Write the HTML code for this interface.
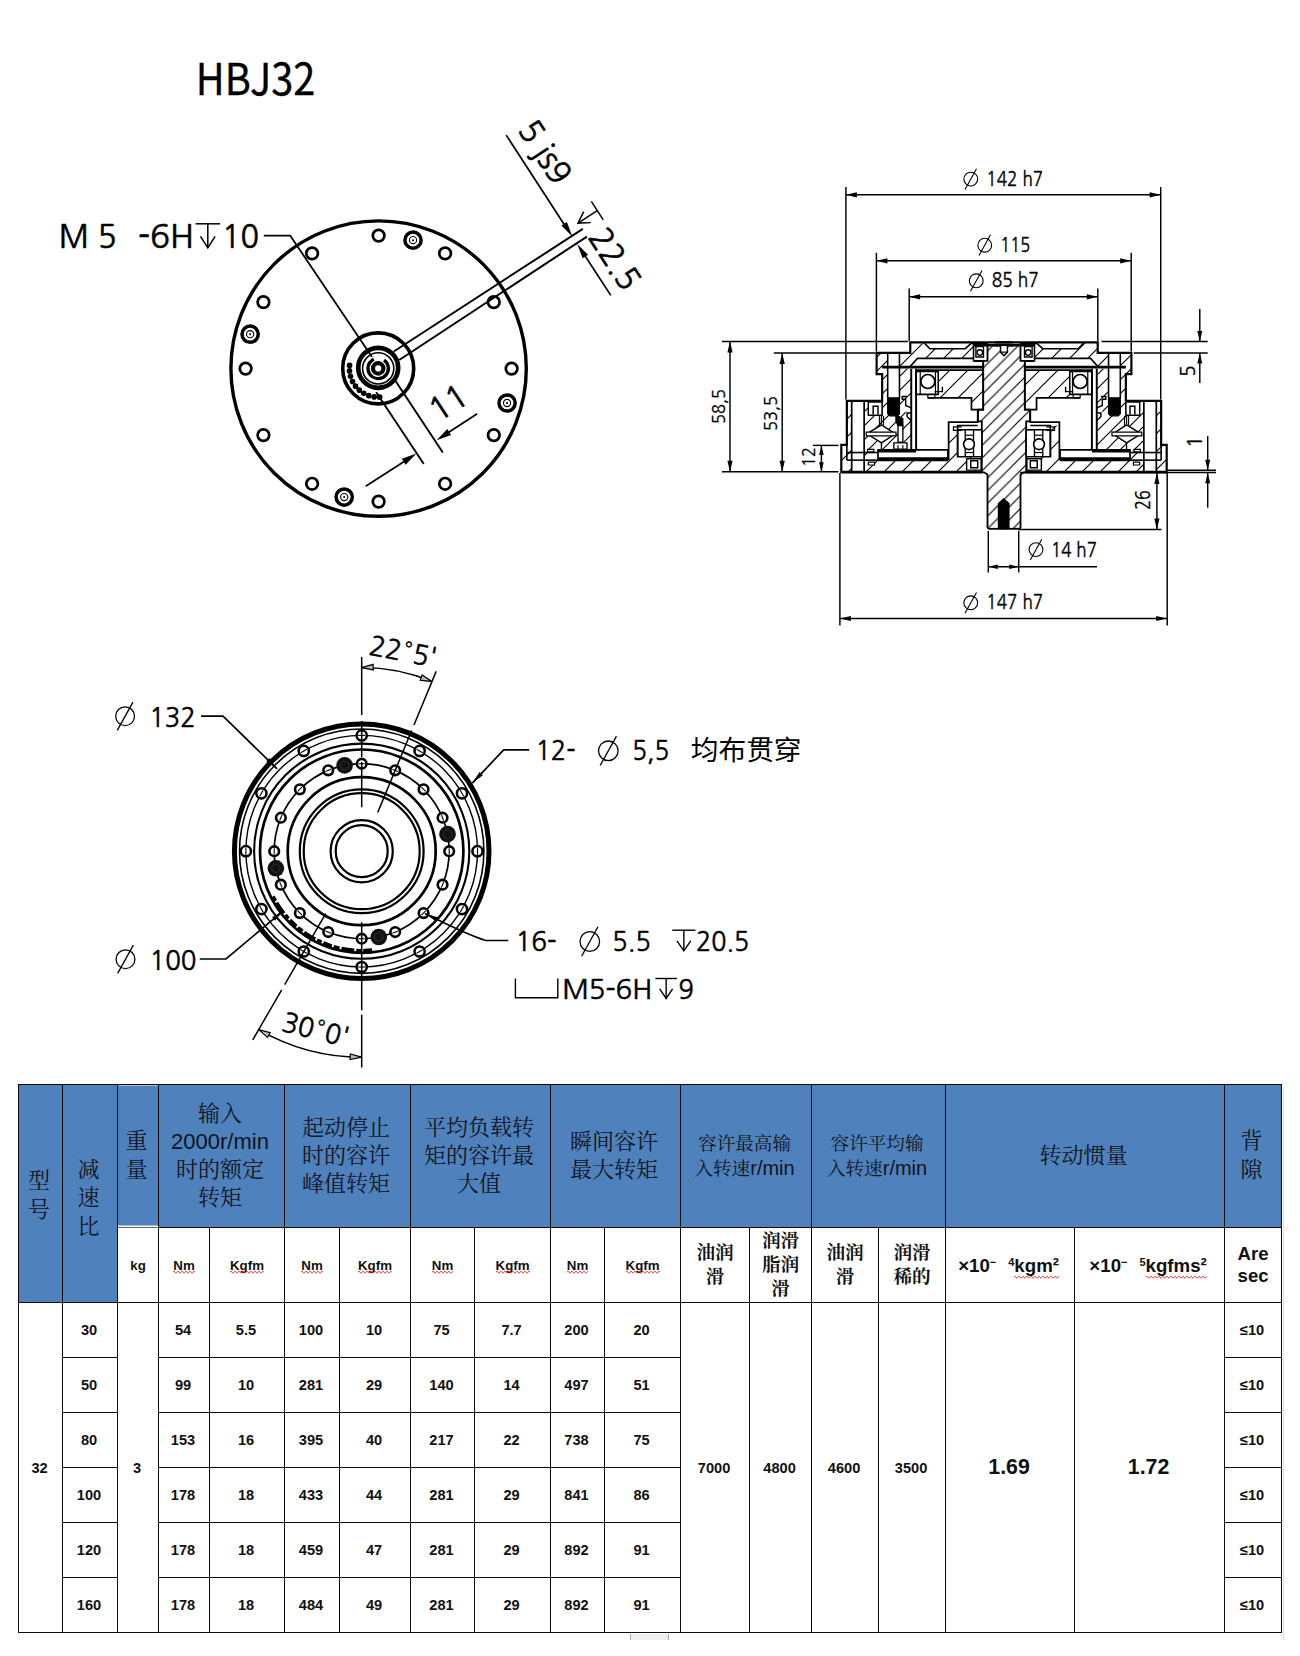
<!DOCTYPE html>
<html lang="zh-CN"><head><meta charset="utf-8"><title>HBJ32</title>
<style>
html,body{margin:0;padding:0;background:#fff;}
body{width:1300px;height:1656px;position:relative;overflow:hidden;font-family:"Liberation Sans","Noto Sans CJK SC",sans-serif;}
svg.draw{position:absolute;left:0;top:0;}

table.spec{position:absolute;left:18px;top:1084px;width:1263px;border-collapse:collapse;table-layout:fixed;font-family:"Liberation Sans","Noto Sans CJK SC",sans-serif;color:#111;}
table.spec th,table.spec td{border:1px solid #0c0c0c;padding:0;text-align:center;vertical-align:middle;overflow:hidden;}
table.spec th{background:#4f81bd;font-family:"Liberation Sans","Noto Serif CJK SC",serif;font-weight:400;font-size:22px;line-height:28px;color:#10141c;padding-right:3px;}
table.spec th .lat{font-family:"Liberation Sans",sans-serif;}
table.spec th.sm{font-size:18.6px;line-height:25px;}
table.spec th.sm .lat{font-size:20px}
table.spec th.v{line-height:28.6px}
table.spec tr.sub td{font-weight:700;font-size:13.3px;}
table.spec td.cb{font-family:"Liberation Serif","Noto Serif CJK SC",serif;font-weight:900;font-size:18.6px !important;line-height:24px;}
table.spec td.ex{font-size:18.67px !important;padding-right:3px;padding-top:2px}
table.spec td.ex sup{font-size:11px;vertical-align:6px;line-height:0}
table.spec td.ex .gap{display:inline-block;width:12px}
table.spec td.as{font-size:18.6px !important;line-height:22px}
table.spec .sq{position:relative;display:inline-block}
table.spec .zz{position:absolute;left:0;top:calc(100% - 2.3px);z-index:2;width:100%;height:4px;overflow:hidden}
table.spec tr.bd td{font-weight:700;font-size:14.6px;padding-right:2px}
table.spec tr.bd td.big{font-size:21.3px;}
table.spec th.wl{border-bottom-color:#6d6a66;background:linear-gradient(to top,#f4f7fb 0,#f4f7fb 1.6px,#4f81bd 1.6px)}

</style></head><body>
<svg class="draw" width="1300" height="1082" viewBox="0 0 1300 1082" fill="none" stroke="#000" stroke-linecap="butt" stroke-linejoin="miter">
<defs><pattern id="hatch" patternUnits="userSpaceOnUse" width="12.7" height="12.7" patternTransform="translate(5 0)"><path d="M-1 13.7 L13.7 -1 M-1 1 L1 -1 M11.7 13.7 L13.7 11.7" stroke="#000" stroke-width="1.15" fill="none"/></pattern><pattern id="hatch14" patternUnits="userSpaceOnUse" width="14" height="14" patternTransform="translate(2 0)"><path d="M-1 15 L15 -1 M-1 1 L1 -1 M13 15 L15 13" stroke="#000" stroke-width="1.15" fill="none"/></pattern><pattern id="hatch18" patternUnits="userSpaceOnUse" width="18" height="18" patternTransform="translate(6 0)"><path d="M-1 19 L19 -1 M-1 1 L1 -1 M17 19 L19 17" stroke="#000" stroke-width="1.15" fill="none"/></pattern></defs>
<text x="195.8" y="94.5" font-size="43.5" font-family='"Noto Sans CJK SC","Liberation Sans",sans-serif' text-anchor="start" textLength="119.5" lengthAdjust="spacingAndGlyphs" fill="#000" stroke="#000" stroke-width="0.35" stroke-linejoin="round" >HBJ32</text>
<g id="view-top"><circle cx="378.6" cy="368.6" r="147.7" fill="none" stroke-width="3.4" />
<circle cx="378.6" cy="235.6" r="5.8" fill="none" stroke-width="2.7" />
<circle cx="445.1" cy="253.42" r="5.8" fill="none" stroke-width="2.7" />
<circle cx="493.78" cy="302.1" r="5.8" fill="none" stroke-width="2.7" />
<circle cx="511.6" cy="368.6" r="5.8" fill="none" stroke-width="2.7" />
<circle cx="493.78" cy="435.1" r="5.8" fill="none" stroke-width="2.7" />
<circle cx="445.1" cy="483.78" r="5.8" fill="none" stroke-width="2.7" />
<circle cx="378.6" cy="501.6" r="5.8" fill="none" stroke-width="2.7" />
<circle cx="312.1" cy="483.78" r="5.8" fill="none" stroke-width="2.7" />
<circle cx="263.42" cy="435.1" r="5.8" fill="none" stroke-width="2.7" />
<circle cx="245.6" cy="368.6" r="5.8" fill="none" stroke-width="2.7" />
<circle cx="263.42" cy="302.1" r="5.8" fill="none" stroke-width="2.7" />
<circle cx="312.1" cy="253.42" r="5.8" fill="none" stroke-width="2.7" />
<circle cx="413.02" cy="240.13" r="8.1" fill="none" stroke-width="3.5" />
<circle cx="413.02" cy="240.13" r="3.6" fill="none" stroke-width="1.1" />
<circle cx="413.02" cy="240.13" r="1" fill="#000" stroke="none" />
<circle cx="507.07" cy="403.02" r="8.1" fill="none" stroke-width="3.5" />
<circle cx="507.07" cy="403.02" r="3.6" fill="none" stroke-width="1.1" />
<circle cx="507.07" cy="403.02" r="1" fill="#000" stroke="none" />
<circle cx="344.18" cy="497.07" r="8.1" fill="none" stroke-width="3.5" />
<circle cx="344.18" cy="497.07" r="3.6" fill="none" stroke-width="1.1" />
<circle cx="344.18" cy="497.07" r="1" fill="#000" stroke="none" />
<circle cx="250.13" cy="334.18" r="8.1" fill="none" stroke-width="3.5" />
<circle cx="250.13" cy="334.18" r="3.6" fill="none" stroke-width="1.1" />
<circle cx="250.13" cy="334.18" r="1" fill="#000" stroke="none" />
<circle cx="378.2" cy="368.4" r="35.5" fill="none" stroke-width="3.6" />
<circle cx="378.2" cy="367.8" r="20" fill="none" stroke-width="4.7" />
<circle cx="378.2" cy="368.4" r="15.6" fill="none" stroke-width="1.6" />
<circle cx="378.2" cy="368.4" r="10.2" fill="none" stroke-width="3.3" stroke-dasharray="53 11.1" transform="rotate(-55 378.2 368.4)"/>
<circle cx="378.2" cy="368.4" r="5.2" fill="none" stroke-width="4.2" />
<circle cx="379.71" cy="397.16" r="2.8" fill="#000" stroke="none" />
<circle cx="374.19" cy="396.92" r="2.8" fill="#000" stroke="none" />
<circle cx="368.82" cy="395.63" r="2.8" fill="#000" stroke="none" />
<circle cx="363.8" cy="393.34" r="2.8" fill="#000" stroke="none" />
<circle cx="359.31" cy="390.14" r="2.8" fill="#000" stroke="none" />
<circle cx="355.51" cy="386.13" r="2.8" fill="#000" stroke="none" />
<circle cx="352.54" cy="381.47" r="2.8" fill="#000" stroke="none" />
<circle cx="350.52" cy="376.34" r="2.8" fill="#000" stroke="none" />
<circle cx="349.51" cy="370.91" r="2.8" fill="#000" stroke="none" />
<circle cx="349.56" cy="365.39" r="2.8" fill="#000" stroke="none" />
<line x1="393.8" y1="351.5" x2="582.8" y2="228.9" stroke-width="2.0" />
<line x1="399.2" y1="360" x2="586.9" y2="236.6" stroke-width="2.0" />
<path d="M263.8 235.6 L290.2 235.6 L372 357" fill="none" stroke-width="1.8" />
<line x1="376.2" y1="392.3" x2="423.8" y2="464" stroke-width="1.9" />
<line x1="395.4" y1="380.8" x2="442.8" y2="452.5" stroke-width="1.9" />
<line x1="365.7" y1="486.2" x2="410" y2="457.7" stroke-width="1.7" />
<polygon points="416.4,453.6 405.68,464.66 401.89,458.77" fill="#000" stroke="none"/>
<line x1="477.2" y1="413.8" x2="443" y2="436" stroke-width="1.7" />
<polygon points="436.6,440.2 447.27,429.09 451.08,434.96" fill="#000" stroke="none"/>
<text x="448.2" y="402.6" font-size="32" font-family='"NanumGothic","Liberation Sans",sans-serif' text-anchor="middle" transform="rotate(-33.3 448.2 402.6)" fill="#000" stroke="#000" stroke-width="0.64" stroke-linejoin="round" dy="11.5">11</text>
<line x1="506.2" y1="135.1" x2="566" y2="227.3" stroke-width="1.7" />
<polygon points="572.3,236.4 561.4,225.59 566.85,222.05" fill="#000" stroke="none"/>
<line x1="610.8" y1="295.4" x2="583.5" y2="253.5" stroke-width="1.7" />
<polygon points="577.2,243.9 588.1,254.71 582.65,258.25" fill="#000" stroke="none"/>
<text x="517.09" y="129.82" font-size="32" font-family='"NanumGothic","Liberation Sans",sans-serif' text-anchor="start" transform="rotate(57 517.09 129.82)" textLength="68" lengthAdjust="spacingAndGlyphs" fill="#000" stroke="#000" stroke-width="0.64" stroke-linejoin="round" >5 js9</text>
<g transform="translate(587.27 237.36) rotate(57)"><line x1="-28" y1="-23" x2="-6" y2="-23" stroke-width="1.5" /><line x1="-17" y1="-23" x2="-17" y2="0" stroke-width="1.5" /><path d="M-23.6 -11.04 L-17 0 L-10.4 -11.04" fill="none" stroke-width="1.5" /></g>
<text x="587.27" y="237.36" font-size="32" font-family='"NanumGothic","Liberation Sans",sans-serif' text-anchor="start" transform="rotate(57 587.27 237.36)" textLength="66" lengthAdjust="spacingAndGlyphs" fill="#000" stroke="#000" stroke-width="0.64" stroke-linejoin="round" >22.5</text>
<text x="58.8" y="247.8" font-size="32" font-family='"NanumGothic","Liberation Sans",sans-serif' text-anchor="start" textLength="58" lengthAdjust="spacingAndGlyphs" fill="#000" stroke="#000" stroke-width="0.64" stroke-linejoin="round" >M 5</text>
<text x="138" y="247.8" font-size="32" font-family='"NanumGothic","Liberation Sans",sans-serif' text-anchor="start" textLength="56" lengthAdjust="spacingAndGlyphs" fill="#000" stroke="#000" stroke-width="0.64" stroke-linejoin="round" >-6H</text>
<line x1="195.6" y1="223.8" x2="220" y2="223.8" stroke-width="1.5" /><line x1="207.8" y1="223.8" x2="207.8" y2="247.8" stroke-width="1.5" /><path d="M200.48 236.28 L207.8 247.8 L215.12 236.28" fill="none" stroke-width="1.5" />
<text x="222" y="247.8" font-size="32" font-family='"NanumGothic","Liberation Sans",sans-serif' text-anchor="start" textLength="37" lengthAdjust="spacingAndGlyphs" fill="#000" stroke="#000" stroke-width="0.64" stroke-linejoin="round" >10</text></g>
<g id="view-bottom"><circle cx="361.7" cy="851.2" r="127.3" fill="none" stroke-width="5.0" />
<circle cx="361.7" cy="851.2" r="122.2" fill="none" stroke-width="1.6" />
<circle cx="361.7" cy="851.2" r="115.8" fill="none" stroke-width="1.4" />
<circle cx="361.7" cy="851.2" r="107.6" fill="none" stroke-width="2.1" />
<circle cx="361.7" cy="851.2" r="101.7" fill="none" stroke-width="2.7" />
<circle cx="361.7" cy="851.2" r="87.5" fill="none" stroke-width="1.7" />
<circle cx="361.7" cy="851.2" r="74" fill="none" stroke-width="2.7" />
<circle cx="361.7" cy="851.2" r="61.9" fill="none" stroke-width="2.2" />
<circle cx="361.7" cy="851.2" r="58" fill="none" stroke-width="2.2" />
<circle cx="361.7" cy="851.2" r="31.1" fill="none" stroke-width="2.2" />
<circle cx="361.7" cy="851.2" r="26" fill="none" stroke-width="2.2" />
<circle cx="361.7" cy="735.4" r="5.1" fill="#fff" stroke-width="2.5" />
<line x1="358.2" y1="735.4" x2="365.2" y2="735.4" stroke-width="1.1" />
<circle cx="419.6" cy="750.91" r="5.1" fill="#fff" stroke-width="2.5" />
<line x1="416.57" y1="749.16" x2="422.63" y2="752.66" stroke-width="1.1" />
<circle cx="461.99" cy="793.3" r="5.1" fill="#fff" stroke-width="2.5" />
<line x1="460.24" y1="790.27" x2="463.74" y2="796.33" stroke-width="1.1" />
<circle cx="477.5" cy="851.2" r="5.1" fill="#fff" stroke-width="2.5" />
<line x1="477.5" y1="847.7" x2="477.5" y2="854.7" stroke-width="1.1" />
<circle cx="461.99" cy="909.1" r="5.1" fill="#fff" stroke-width="2.5" />
<line x1="463.74" y1="906.07" x2="460.24" y2="912.13" stroke-width="1.1" />
<circle cx="419.6" cy="951.49" r="5.1" fill="#fff" stroke-width="2.5" />
<line x1="422.63" y1="949.74" x2="416.57" y2="953.24" stroke-width="1.1" />
<circle cx="361.7" cy="967" r="5.1" fill="#fff" stroke-width="2.5" />
<line x1="365.2" y1="967" x2="358.2" y2="967" stroke-width="1.1" />
<circle cx="303.8" cy="951.49" r="5.1" fill="#fff" stroke-width="2.5" />
<line x1="306.83" y1="953.24" x2="300.77" y2="949.74" stroke-width="1.1" />
<circle cx="261.41" cy="909.1" r="5.1" fill="#fff" stroke-width="2.5" />
<line x1="263.16" y1="912.13" x2="259.66" y2="906.07" stroke-width="1.1" />
<circle cx="245.9" cy="851.2" r="5.1" fill="#fff" stroke-width="2.5" />
<line x1="245.9" y1="854.7" x2="245.9" y2="847.7" stroke-width="1.1" />
<circle cx="261.41" cy="793.3" r="5.1" fill="#fff" stroke-width="2.5" />
<line x1="259.66" y1="796.33" x2="263.16" y2="790.27" stroke-width="1.1" />
<circle cx="303.8" cy="750.91" r="5.1" fill="#fff" stroke-width="2.5" />
<line x1="300.77" y1="752.66" x2="306.83" y2="749.16" stroke-width="1.1" />
<circle cx="361.7" cy="763.7" r="4.8" fill="#fff" stroke-width="2.6" />
<line x1="358.7" y1="763.7" x2="364.7" y2="763.7" stroke-width="1.1" />
<circle cx="395.18" cy="770.36" r="4.8" fill="#fff" stroke-width="2.6" />
<line x1="392.41" y1="769.21" x2="397.96" y2="771.51" stroke-width="1.1" />
<circle cx="423.57" cy="789.33" r="4.8" fill="#fff" stroke-width="2.6" />
<line x1="421.45" y1="787.21" x2="425.69" y2="791.45" stroke-width="1.1" />
<circle cx="442.54" cy="817.72" r="4.8" fill="#fff" stroke-width="2.6" />
<line x1="441.39" y1="814.94" x2="443.69" y2="820.49" stroke-width="1.1" />
<circle cx="449.2" cy="851.2" r="4.8" fill="#fff" stroke-width="2.6" />
<line x1="449.2" y1="848.2" x2="449.2" y2="854.2" stroke-width="1.1" />
<circle cx="442.54" cy="884.68" r="4.8" fill="#fff" stroke-width="2.6" />
<line x1="443.69" y1="881.91" x2="441.39" y2="887.46" stroke-width="1.1" />
<circle cx="423.57" cy="913.07" r="4.8" fill="#fff" stroke-width="2.6" />
<line x1="425.69" y1="910.95" x2="421.45" y2="915.19" stroke-width="1.1" />
<circle cx="395.18" cy="932.04" r="4.8" fill="#fff" stroke-width="2.6" />
<line x1="397.96" y1="930.89" x2="392.41" y2="933.19" stroke-width="1.1" />
<circle cx="361.7" cy="938.7" r="4.8" fill="#fff" stroke-width="2.6" />
<line x1="364.7" y1="938.7" x2="358.7" y2="938.7" stroke-width="1.1" />
<circle cx="328.22" cy="932.04" r="4.8" fill="#fff" stroke-width="2.6" />
<line x1="330.99" y1="933.19" x2="325.44" y2="930.89" stroke-width="1.1" />
<circle cx="299.83" cy="913.07" r="4.8" fill="#fff" stroke-width="2.6" />
<line x1="301.95" y1="915.19" x2="297.71" y2="910.95" stroke-width="1.1" />
<circle cx="280.86" cy="884.68" r="4.8" fill="#fff" stroke-width="2.6" />
<line x1="282.01" y1="887.46" x2="279.71" y2="881.91" stroke-width="1.1" />
<circle cx="274.2" cy="851.2" r="4.8" fill="#fff" stroke-width="2.6" />
<line x1="274.2" y1="854.2" x2="274.2" y2="848.2" stroke-width="1.1" />
<circle cx="280.86" cy="817.72" r="4.8" fill="#fff" stroke-width="2.6" />
<line x1="279.71" y1="820.49" x2="282.01" y2="814.94" stroke-width="1.1" />
<circle cx="299.83" cy="789.33" r="4.8" fill="#fff" stroke-width="2.6" />
<line x1="297.71" y1="791.45" x2="301.95" y2="787.21" stroke-width="1.1" />
<circle cx="328.22" cy="770.36" r="4.8" fill="#fff" stroke-width="2.6" />
<line x1="325.44" y1="771.51" x2="330.99" y2="769.21" stroke-width="1.1" />
<circle cx="344.63" cy="765.38" r="8.3" fill="#111" stroke="none" />
<circle cx="344.63" cy="765.38" r="4.2" fill="none" stroke-width="0.6" stroke="#444"/>
<circle cx="447.52" cy="834.13" r="8.3" fill="#111" stroke="none" />
<circle cx="447.52" cy="834.13" r="4.2" fill="none" stroke-width="0.6" stroke="#444"/>
<circle cx="378.77" cy="937.02" r="8.3" fill="#111" stroke="none" />
<circle cx="378.77" cy="937.02" r="4.2" fill="none" stroke-width="0.6" stroke="#444"/>
<circle cx="275.88" cy="868.27" r="8.3" fill="#111" stroke="none" />
<circle cx="275.88" cy="868.27" r="4.2" fill="none" stroke-width="0.6" stroke="#444"/>
<path d="M372.15 950.65 A100 100 0 0 1 272.6 896.6" stroke-width="4.6" stroke-dasharray="9 2 5 2 13 2 6 2" fill="none"/>
<line x1="361.7" y1="656.9" x2="361.7" y2="807.2" stroke-width="1.5" stroke-dasharray="58 6 36 5 60"/>
<line x1="361.7" y1="922.2" x2="361.7" y2="1067.5" stroke-width="1.5" stroke-dasharray="88 4.5 60"/>
<line x1="436.17" y1="671.41" x2="377.77" y2="812.4" stroke-width="1.5" stroke-dasharray="58 6 100"/>
<line x1="325.7" y1="913.55" x2="252.7" y2="1039.99" stroke-width="1.5" stroke-dasharray="82 6 70"/>
<path d="M361.7 667.6 A183.6 183.6 0 0 1 431.96 681.58" stroke-width="1.5"/>
<polygon points="361.7,667.6 373.08,664.39 373.3,669.89" fill="#bbb" stroke="#000" stroke-width="1.2" stroke-linejoin="miter"/>
<polygon points="431.96,681.58 420.22,680.15 422.13,675" fill="#bbb" stroke="#000" stroke-width="1.2" stroke-linejoin="miter"/>
<text x="401.5" y="661" font-size="27" font-family='"NanumGothic","Liberation Sans",sans-serif' text-anchor="middle" transform="rotate(11 401.5 661)" textLength="68" lengthAdjust="spacingAndGlyphs" fill="#000" stroke="#000" stroke-width="0.54" stroke-linejoin="round" >22°5'</text>
<path d="M361.7 1057.2 A206.0 206.0 0 0 1 258.7 1029.6" stroke-width="1.5"/>
<polygon points="361.7,1057.2 350.1,1059.49 350.32,1053.99" fill="#bbb" stroke="#000" stroke-width="1.2" stroke-linejoin="miter"/>
<polygon points="258.7,1029.6 270.15,1032.57 267.57,1037.42" fill="#bbb" stroke="#000" stroke-width="1.2" stroke-linejoin="miter"/>
<text x="313.5" y="1039" font-size="27" font-family='"NanumGothic","Liberation Sans",sans-serif' text-anchor="middle" transform="rotate(14 313.5 1039)" textLength="68" lengthAdjust="spacingAndGlyphs" fill="#000" stroke="#000" stroke-width="0.54" stroke-linejoin="round" >30°0'</text>
<path d="M201.1 716.2 L223 716.2 L277.1 768.8" fill="none" stroke-width="1.7" />
<polygon points="277.1,768.8 266.21,761.35 269.35,758.12" fill="#000" stroke="none"/>
<circle cx="125.1" cy="716.2" r="9.4" fill="none" stroke-width="1.3" /><line x1="117.26" y1="730.34" x2="132.94" y2="702.06" stroke-width="1.3" />
<text x="149.3" y="726.5" font-size="27.5" font-family='"NanumGothic","Liberation Sans",sans-serif' text-anchor="start" textLength="46.5" lengthAdjust="spacingAndGlyphs" fill="#000" stroke="#000" stroke-width="0.55" stroke-linejoin="round" >132</text>
<path d="M199.8 959 L226 959 L283.5 910.6" fill="none" stroke-width="1.7" />
<polygon points="283.5,910.6 275,920.69 272.11,917.25" fill="#000" stroke="none"/>
<circle cx="125.5" cy="959.2" r="9.4" fill="none" stroke-width="1.3" /><line x1="117.66" y1="973.34" x2="133.34" y2="945.06" stroke-width="1.3" />
<text x="149.5" y="969.6" font-size="27.5" font-family='"NanumGothic","Liberation Sans",sans-serif' text-anchor="start" textLength="47" lengthAdjust="spacingAndGlyphs" fill="#000" stroke="#000" stroke-width="0.55" stroke-linejoin="round" >100</text>
<path d="M529.2 749.8 L503.7 749.8 L472.3 783.1" fill="none" stroke-width="1.7" />
<polygon points="472.3,783.1 479.58,772.1 482.86,775.19" fill="#000" stroke="none"/>
<text x="535.4" y="760" font-size="27.5" font-family='"NanumGothic","Liberation Sans",sans-serif' text-anchor="start" textLength="40" lengthAdjust="spacingAndGlyphs" fill="#000" stroke="#000" stroke-width="0.55" stroke-linejoin="round" >12-</text>
<circle cx="608.3" cy="750.8" r="9.8" fill="none" stroke-width="1.3" /><line x1="600.13" y1="765.54" x2="616.47" y2="736.06" stroke-width="1.3" />
<text x="632.3" y="760" font-size="27.5" font-family='"NanumGothic","Liberation Sans",sans-serif' text-anchor="start" textLength="37" lengthAdjust="spacingAndGlyphs" fill="#000" stroke="#000" stroke-width="0.55" stroke-linejoin="round" >5,5</text>
<text x="690.8" y="760" font-size="27.7" font-family='"Liberation Sans","Noto Sans CJK SC",sans-serif' text-anchor="start" textLength="110.7" lengthAdjust="spacingAndGlyphs" fill="#000" stroke="none" >均布贯穿</text>
<path d="M508.3 940.6 L486.2 940.6 Q470 936 425 913.5" stroke-width="1.5"/>
<polygon points="425,913.5 437.67,917.19 435.69,921.23" fill="#000" stroke="none"/>
<text x="515.4" y="950.8" font-size="27.5" font-family='"NanumGothic","Liberation Sans",sans-serif' text-anchor="start" textLength="41" lengthAdjust="spacingAndGlyphs" fill="#000" stroke="#000" stroke-width="0.55" stroke-linejoin="round" >16-</text>
<circle cx="589.8" cy="941.5" r="9.8" fill="none" stroke-width="1.3" /><line x1="581.63" y1="956.24" x2="597.97" y2="926.76" stroke-width="1.3" />
<text x="612.3" y="950.8" font-size="27.5" font-family='"NanumGothic","Liberation Sans",sans-serif' text-anchor="start" textLength="38.5" lengthAdjust="spacingAndGlyphs" fill="#000" stroke="#000" stroke-width="0.55" stroke-linejoin="round" >5.5</text>
<line x1="672.3" y1="930.2" x2="695.4" y2="930.2" stroke-width="1.4" /><line x1="683.85" y1="930.2" x2="683.85" y2="950.8" stroke-width="1.4" /><path d="M676.92 940.91 L683.85 950.8 L690.78 940.91" fill="none" stroke-width="1.4" />
<text x="696" y="950.8" font-size="27.5" font-family='"NanumGothic","Liberation Sans",sans-serif' text-anchor="start" textLength="53.2" lengthAdjust="spacingAndGlyphs" fill="#000" stroke="#000" stroke-width="0.55" stroke-linejoin="round" >20.5</text>
<path d="M515.4 978.5 L515.4 997.8 L557.8 997.8 L557.8 978.5" fill="none" stroke-width="1.4" />
<text x="562.2" y="998.5" font-size="27.5" font-family='"NanumGothic","Liberation Sans",sans-serif' text-anchor="start" textLength="90" lengthAdjust="spacingAndGlyphs" fill="#000" stroke="#000" stroke-width="0.55" stroke-linejoin="round" >M5-6H</text>
<line x1="655.4" y1="978.5" x2="676.9" y2="978.5" stroke-width="1.4" /><line x1="666.15" y1="978.5" x2="666.15" y2="998.5" stroke-width="1.4" /><path d="M659.7 988.9 L666.15 998.5 L672.6 988.9" fill="none" stroke-width="1.4" />
<text x="678.5" y="998.5" font-size="27.5" font-family='"NanumGothic","Liberation Sans",sans-serif' text-anchor="start" textLength="15.3" lengthAdjust="spacingAndGlyphs" fill="#000" stroke="#000" stroke-width="0.55" stroke-linejoin="round" >9</text></g>
<g id="view-section"><path d="M1034.46 343.85 L1036.54 343.15 L1042.77 348.69 L1078.08 348.69 L1083.62 343.15 L1097.74 343.15 L1097.74 352.85 L1108.54 352.85 L1108.54 366.69 L1098.15 366.69 L1090.54 358.38 L1034.46 358.38 Z" fill="url(#hatch18)" stroke="none" /><path d="M973.54 343.85 L971.46 343.15 L965.23 348.69 L929.92 348.69 L924.38 343.15 L910.26 343.15 L910.26 352.85 L899.46 352.85 L899.46 366.69 L909.85 366.69 L917.46 358.38 L973.54 358.38 Z" fill="url(#hatch18)" stroke="none" />
<path d="M1096.77 368.77 L1108.54 368.77 L1108.54 352.85 L1131.39 352.85 L1131.39 374.03 L1125.85 374.03 L1125.85 400.89 L1143.85 400.89 L1143.85 450.46 L1096.77 450.46 Z" fill="url(#hatch14)" stroke="none" /><path d="M911.23 368.77 L899.46 368.77 L899.46 352.85 L876.61 352.85 L876.61 374.03 L882.15 374.03 L882.15 400.89 L864.15 400.89 L864.15 450.46 L911.23 450.46 Z" fill="url(#hatch14)" stroke="none" />
<path d="M1156.31 400.89 L1161.15 400.89 L1161.15 444.92 L1166.69 444.92 L1166.69 471.92 L1156.31 471.92 Z" fill="url(#hatch18)" stroke="none" /><path d="M851.69 400.89 L846.85 400.89 L846.85 444.92 L841.31 444.92 L841.31 471.92 L851.69 471.92 Z" fill="url(#hatch18)" stroke="none" />
<path d="M1050.38 425.54 L1059.38 425.54 L1059.38 460.15 L1130 460.15 L1130 452.54 L1143.85 452.54 L1143.85 471.92 L1026.15 471.92 L1026.15 456.69 L1050.38 456.69 Z" fill="url(#hatch18)" stroke="none" /><path d="M957.62 425.54 L948.62 425.54 L948.62 460.15 L878 460.15 L878 452.54 L864.15 452.54 L864.15 471.92 L981.85 471.92 L981.85 456.69 L957.62 456.69 Z" fill="url(#hatch18)" stroke="none" />
<path d="M1024.77 370.15 L1069.77 370.15 L1069.77 386.77 L1065.62 386.77 L1065.62 391.62 L1073.23 391.62 L1073.23 394.38 L1080.15 394.38 L1080.15 397.85 L1036.54 397.85 L1036.54 409.62 L1024.77 409.62 Z" fill="url(#hatch18)" stroke="none" /><path d="M983.23 370.15 L938.23 370.15 L938.23 386.77 L942.38 386.77 L942.38 391.62 L934.77 391.62 L934.77 394.38 L927.85 394.38 L927.85 397.85 L971.46 397.85 L971.46 409.62 L983.23 409.62 Z" fill="url(#hatch18)" stroke="none" />
<path d="M1020.6 343.8 L1020.6 360.5 L1024.8 360.5 L1024.8 409.6 L1030 409.6 L1030 421.4 L1026.2 421.4 L1026.2 472.3 L1024 472.3 L1020.5 474.5 L1020.5 527.5 L1019.3 528.8 L988.7 528.8 L987.5 527.5 L987.5 474.5 L984 472.3 L981.8 472.3 L981.8 421.4 L978 421.4 L978 409.6 L983.2 409.6 L983.2 360.5 L987.4 360.5 L987.4 343.8 Z" fill="url(#hatch)" stroke="none" />
<path d="M1020.6 343.8 L1020.6 360.5 L1024.8 360.5 L1024.8 409.6 L1030 409.6 L1030 421.4 L1026.2 421.4 L1026.2 472.3 L1024 472.3 L1020.5 474.5 L1020.5 527.5 L1019.3 528.8" fill="none" stroke-width="1.83" />
<path d="M988.7 528.8 L987.5 527.5 L987.5 474.5 L984 472.3 L981.8 472.3 L981.8 421.4 L978 421.4 L978 409.6 L983.2 409.6 L983.2 360.5 L987.4 360.5 L987.4 343.8" fill="none" stroke-width="1.83" />
<line x1="988.7" y1="528.8" x2="1019.3" y2="528.8" stroke-width="1.83" />
<path d="M1108.54 352.85 L1120.31 352.85 L1120.31 397.85 L1108.54 397.85 Z" fill="#fff" stroke="none" /><path d="M899.46 352.85 L887.69 352.85 L887.69 397.85 L899.46 397.85 Z" fill="#fff" stroke="none" />
<path d="M1112.69 433.85 L1126.54 424.85 L1141.08 433.85 L1126.54 442.85 Z" fill="#fff" stroke-width="1.46" /><path d="M895.31 433.85 L881.46 424.85 L866.92 433.85 L881.46 442.85 Z" fill="#fff" stroke-width="1.46" />
<path d="M1125.85 402 L1139.69 402 L1139.69 415.15 L1125.85 415.15 Z" fill="#fff" stroke="none" /><path d="M882.15 402 L868.31 402 L868.31 415.15 L882.15 415.15 Z" fill="#fff" stroke="none" />
<path d="M1096.77 405.46 L1102.31 405.46 L1102.31 420 L1096.77 420 Z" fill="#fff" stroke="none" /><path d="M911.23 405.46 L905.69 405.46 L905.69 420 L911.23 420 Z" fill="#fff" stroke="none" />
<path d="M1020.62 343.85 L1034.46 343.85 L1034.46 360.74 L1020.62 360.74 Z" fill="#fff" stroke-width="1.59" /><path d="M987.38 343.85 L973.54 343.85 L973.54 360.74 L987.38 360.74 Z" fill="#fff" stroke-width="1.59" />
<path d="M1026.15 429.69 L1050.38 429.69 L1050.38 456.69 L1026.15 456.69 Z" fill="#fff" stroke-width="1.59" /><path d="M981.85 429.69 L957.62 429.69 L957.62 456.69 L981.85 456.69 Z" fill="#fff" stroke-width="1.59" />
<path d="M1026.85 458.77 L1041.38 458.77 L1041.38 470.12 L1026.85 470.12 Z" fill="#fff" stroke-width="1.46" /><path d="M981.15 458.77 L966.62 458.77 L966.62 470.12 L981.15 470.12 Z" fill="#fff" stroke-width="1.46" />
<path d="M1069.77 371.54 L1091.92 371.54 L1091.92 394.38 L1069.77 394.38 Z" fill="#fff" stroke-width="1.59" /><path d="M938.23 371.54 L916.08 371.54 L916.08 394.38 L938.23 394.38 Z" fill="#fff" stroke-width="1.59" />
<path d="M995 342.46 L1097.74 342.46 L1097.74 352.85 L1131.39 352.85 L1131.39 374.03 L1125.85 374.03 L1125.85 400.89 L1161.15 400.89 L1161.15 444.92 L1166.69 444.92 L1166.69 471.92 L1026.15 471.92" fill="none" stroke-width="2.2" /><path d="M1013 342.46 L910.26 342.46 L910.26 352.85 L876.61 352.85 L876.61 374.03 L882.15 374.03 L882.15 400.89 L846.85 400.89 L846.85 444.92 L841.31 444.92 L841.31 471.92 L981.85 471.92" fill="none" stroke-width="2.2" />
<path d="M1026.15 472.2 L1166.69 472.2" fill="none" stroke-width="2.44" /><path d="M981.85 472.2 L841.31 472.2" fill="none" stroke-width="2.44" />
<path d="M1034.46 343.85 L1036.54 343.15 L1042.77 348.69 L1078.08 348.69 L1083.62 343.15" fill="none" stroke-width="1.59" /><path d="M973.54 343.85 L971.46 343.15 L965.23 348.69 L929.92 348.69 L924.38 343.15" fill="none" stroke-width="1.59" />
<path d="M995 345.23 L1034.46 345.23" fill="none" stroke-width="2.44" /><path d="M1013 345.23 L973.54 345.23" fill="none" stroke-width="2.44" />
<path d="M1000.54 345.92 L1000.54 352.15 L1004 355.62 L1007.46 352.15 L1007.46 345.92" fill="#fff" stroke-width="1.46" />
<line x1="1000.54" y1="352.15" x2="1007.46" y2="352.15" stroke-width="1.22" />
<path d="M1034.46 358.38 L1090.54 358.38 L1098.15 366.69" fill="none" stroke-width="1.59" /><path d="M973.54 358.38 L917.46 358.38 L909.85 366.69" fill="none" stroke-width="1.59" />
<path d="M1024.77 361.15 L1034.46 361.15" fill="none" stroke-width="1.59" /><path d="M983.23 361.15 L973.54 361.15" fill="none" stroke-width="1.59" />
<path d="M1024.77 360.74 L1024.77 409.62 L1030.31 409.62" fill="none" stroke-width="1.59" /><path d="M983.23 360.74 L983.23 409.62 L977.69 409.62" fill="none" stroke-width="1.59" />
<path d="M1024.77 367.11 L1125.85 367.11" fill="none" stroke-width="2.68" /><path d="M983.23 367.11 L882.15 367.11" fill="none" stroke-width="2.68" />
<path d="M1024.77 370.15 L1091.92 370.15" fill="none" stroke-width="1.59" /><path d="M983.23 370.15 L916.08 370.15" fill="none" stroke-width="1.59" />
<path d="M1091.92 368.77 L1091.92 450.46" fill="none" stroke-width="1.95" /><path d="M916.08 368.77 L916.08 450.46" fill="none" stroke-width="1.95" />
<path d="M1096.77 368.77 L1096.77 450.46" fill="none" stroke-width="1.95" /><path d="M911.23 368.77 L911.23 450.46" fill="none" stroke-width="1.95" />
<path d="M1108.54 352.85 L1108.54 397.85" fill="none" stroke-width="1.59" /><path d="M899.46 352.85 L899.46 397.85" fill="none" stroke-width="1.59" />
<path d="M1120.31 352.85 L1120.31 397.85" fill="none" stroke-width="1.59" /><path d="M887.69 352.85 L887.69 397.85" fill="none" stroke-width="1.59" />
<path d="M1108.54 397.85 L1120.31 397.85 L1120.31 413.77 L1118.23 415.85 L1110.62 415.85 L1108.54 413.77 Z" fill="#000" stroke-width="1.22" /><path d="M899.46 397.85 L887.69 397.85 L887.69 413.77 L889.77 415.85 L897.38 415.85 L899.46 413.77 Z" fill="#000" stroke-width="1.22" />
<path d="M1100.92 396.46 L1105.77 396.46 L1105.77 399.23 L1102.31 399.23 L1102.31 405.46 L1096.77 407.82" fill="none" stroke-width="1.46" /><path d="M907.08 396.46 L902.23 396.46 L902.23 399.23 L905.69 399.23 L905.69 405.46 L911.23 407.82" fill="none" stroke-width="1.46" />
<path d="M1096.77 413.08 L1100.92 413.08 L1100.92 416.54 L1096.77 420.69" fill="none" stroke-width="1.46" /><path d="M911.23 413.08 L907.08 413.08 L907.08 416.54 L911.23 420.69" fill="none" stroke-width="1.46" />
<path d="M1125.85 400.89 L1125.85 415.85" fill="none" stroke-width="1.59" /><path d="M882.15 400.89 L882.15 415.85" fill="none" stroke-width="1.59" />
<path d="M1125.85 402 L1139.69 402 L1139.69 415.15 L1125.85 415.15" fill="none" stroke-width="1.46" /><path d="M882.15 402 L868.31 402 L868.31 415.15 L882.15 415.15" fill="none" stroke-width="1.46" />
<path d="M1130 414.46 L1130 406.15 L1134.85 406.15 L1134.85 414.46" fill="none" stroke-width="1.46" /><path d="M878 414.46 L878 406.15 L873.15 406.15 L873.15 414.46" fill="none" stroke-width="1.46" />
<path d="M1143.85 400.89 L1143.85 471.92" fill="none" stroke-width="1.71" /><path d="M864.15 400.89 L864.15 471.92" fill="none" stroke-width="1.71" />
<path d="M1156.31 400.89 L1156.31 471.92" fill="none" stroke-width="1.71" /><path d="M851.69 400.89 L851.69 471.92" fill="none" stroke-width="1.71" />
<path d="M1112 432.05 L1141.77 432.05 L1141.77 435.92 L1112 435.92 Z" fill="#fff" stroke-width="1.22" /><path d="M896 432.05 L866.23 432.05 L866.23 435.92 L896 435.92 Z" fill="#fff" stroke-width="1.22" />
<path d="M1126.54 415.85 L1126.54 424.85" fill="none" stroke-width="1.34" /><path d="M881.46 415.85 L881.46 424.85" fill="none" stroke-width="1.34" />
<path d="M1126.54 442.85 L1126.54 450.46" fill="none" stroke-width="1.34" /><path d="M881.46 442.85 L881.46 450.46" fill="none" stroke-width="1.34" />
<path d="M1124.46 415.85 L1124.46 425.54" fill="none" stroke-width="1.1" /><path d="M883.54 415.85 L883.54 425.54" fill="none" stroke-width="1.1" />
<path d="M1128.62 415.85 L1128.62 425.54" fill="none" stroke-width="1.1" /><path d="M879.38 415.85 L879.38 425.54" fill="none" stroke-width="1.1" />
<path d="M1060.08 449.77 L1130 449.77 L1130 460.15 L1062.85 460.15 L1060.08 457.39 Z" fill="#fff" stroke-width="1.71" /><path d="M947.92 449.77 L878 449.77 L878 460.15 L945.15 460.15 L947.92 457.39 Z" fill="#fff" stroke-width="1.71" />
<path d="M1091.92 450.74 L1130 450.74" fill="none" stroke-width="3.66" /><path d="M916.08 450.74 L878 450.74" fill="none" stroke-width="3.66" />
<path d="M1060.08 459.32 L1130 459.32" fill="none" stroke-width="3.9" /><path d="M947.92 459.32 L878 459.32" fill="none" stroke-width="3.9" />
<path d="M1161.15 444.92 L1161.15 460.15" fill="none" stroke-width="1.59" /><path d="M846.85 444.92 L846.85 460.15" fill="none" stroke-width="1.59" />
<path d="M1130 452.54 L1161.15 452.54" fill="none" stroke-width="1.59" /><path d="M878 452.54 L846.85 452.54" fill="none" stroke-width="1.59" />
<path d="M1130 460.15 L1161.15 460.15" fill="none" stroke-width="1.59" /><path d="M878 460.15 L846.85 460.15" fill="none" stroke-width="1.59" />
<path d="M1134.15 449.35 L1140.39 449.35 L1140.39 451.85 L1134.15 451.85 Z" fill="#fff" stroke-width="1.22" /><path d="M873.85 449.35 L867.61 449.35 L867.61 451.85 L873.85 451.85 Z" fill="#fff" stroke-width="1.22" />
<path d="M1133.46 462.23 L1139.69 462.23 L1139.69 465 L1133.46 465 Z" fill="#fff" stroke-width="1.22" /><path d="M874.54 462.23 L868.31 462.23 L868.31 465 L874.54 465 Z" fill="#fff" stroke-width="1.22" />
<path d="M1030.31 409.62 L1030.31 422.08 L1059.38 422.08 L1059.38 460.15" fill="none" stroke-width="1.71" /><path d="M977.69 409.62 L977.69 422.08 L948.62 422.08 L948.62 460.15" fill="none" stroke-width="1.71" />
<path d="M1030.31 425.54 L1050.38 425.54 L1050.38 429.69" fill="none" stroke-width="1.59" /><path d="M977.69 425.54 L957.62 425.54 L957.62 429.69" fill="none" stroke-width="1.59" />
<path d="M1050.38 456.69 L1050.38 429.69" fill="none" stroke-width="1.59" /><path d="M957.62 456.69 L957.62 429.69" fill="none" stroke-width="1.59" />
<path d="M1026.15 429.69 L1034.46 429.69 L1034.46 456.69" fill="none" stroke-width="1.34" /><path d="M981.85 429.69 L973.54 429.69 L973.54 456.69" fill="none" stroke-width="1.34" />
<path d="M1042.77 429.69 L1042.77 456.69" fill="none" stroke-width="1.34" /><path d="M965.23 429.69 L965.23 456.69" fill="none" stroke-width="1.34" />
<path d="M1034.46 435.23 L1042.77 435.23" fill="none" stroke-width="1.22" /><path d="M973.54 435.23 L965.23 435.23" fill="none" stroke-width="1.22" />
<path d="M1034.46 452.54 L1042.77 452.54" fill="none" stroke-width="1.22" /><path d="M973.54 452.54 L965.23 452.54" fill="none" stroke-width="1.22" />
<circle cx="1039.03" cy="444.23" r="5.4" fill="#fff" stroke-width="1.59" />
<circle cx="968.97" cy="444.23" r="5.4" fill="#fff" stroke-width="1.59" />
<path d="M1030.31 460.85 L1037.23 460.85 L1037.23 467.77 L1030.31 467.77 Z" fill="none" stroke-width="1.46" /><path d="M977.69 460.85 L970.77 460.85 L970.77 467.77 L977.69 467.77 Z" fill="none" stroke-width="1.46" />
<path d="M1046.23 426.92 L1054.54 426.92 L1054.54 430.38 L1046.23 430.38" fill="none" stroke-width="1.22" /><path d="M961.77 426.92 L953.46 426.92 L953.46 430.38 L961.77 430.38" fill="none" stroke-width="1.22" />
<circle cx="1080.15" cy="381.51" r="7" fill="#fff" stroke-width="1.71" />
<circle cx="927.85" cy="381.51" r="7" fill="#fff" stroke-width="1.71" />
<path d="M1069.77 371.54 L1072.54 371.54 L1072.54 394.38" fill="none" stroke-width="1.22" /><path d="M938.23 371.54 L935.46 371.54 L935.46 394.38" fill="none" stroke-width="1.22" />
<path d="M1087.77 371.54 L1087.77 394.38" fill="none" stroke-width="1.22" /><path d="M920.23 371.54 L920.23 394.38" fill="none" stroke-width="1.22" />
<path d="M1065.62 386.77 L1065.62 391.62 L1073.23 391.62" fill="none" stroke-width="1.46" /><path d="M942.38 386.77 L942.38 391.62 L934.77 391.62" fill="none" stroke-width="1.46" />
<path d="M1073.23 394.38 L1073.23 397.85 L1080.15 397.85 L1080.15 394.38" fill="none" stroke-width="1.22" /><path d="M934.77 394.38 L934.77 397.85 L927.85 397.85 L927.85 394.38" fill="none" stroke-width="1.22" />
<path d="M1080.15 397.85 L1036.54 397.85 L1036.54 409.62 L1030.31 409.62" fill="none" stroke-width="1.71" /><path d="M927.85 397.85 L971.46 397.85 L971.46 409.62 L977.69 409.62" fill="none" stroke-width="1.71" />
<path d="M1024.49 346.62 L1032.11 346.62 L1032.11 357 L1024.49 357 Z" fill="none" stroke-width="1.34" /><path d="M983.51 346.62 L975.89 346.62 L975.89 357 L983.51 357 Z" fill="none" stroke-width="1.34" />
<circle cx="1028.23" cy="352.57" r="2.8" fill="none" stroke-width="1.34" />
<circle cx="979.77" cy="352.57" r="2.8" fill="none" stroke-width="1.34" />
<path d="M895.92 415.15 L902.85 418.62 L902.85 425.54 L898 425.54 L895.92 421.38 Z" fill="#000" stroke-width="1.22" />
<path d="M898 425.54 L902.85 425.54 L902.85 442.15 L898 442.15 Z" fill="#fff" stroke-width="1.34" />
<path d="M893.85 442.85 L907 442.85 L907 449.08 L893.85 449.08 Z" fill="#fff" stroke-width="1.34" />
<line x1="898" y1="444.92" x2="898" y2="449.08" stroke-width="1.1" />
<line x1="902.85" y1="444.92" x2="902.85" y2="449.08" stroke-width="1.1" />
<path d="M998.4 528.6 L998.4 503.5 L1003.7 498.8 L1009 503.5 L1009 528.6 Z" fill="#000" stroke-width="1.22" />
<line x1="845.9" y1="194.8" x2="1160.7" y2="194.8" stroke-width="1.46" /><polygon points="845.9,194.8 856.9,192.2 856.9,197.4" fill="#000" stroke="none"/><polygon points="1160.7,194.8 1149.7,197.4 1149.7,192.2" fill="#000" stroke="none"/><line x1="845.9" y1="187" x2="845.9" y2="399.5" stroke-width="1.46" /><line x1="1160.7" y1="187" x2="1160.7" y2="399.5" stroke-width="1.46" />
<line x1="876.4" y1="260.8" x2="1131.2" y2="260.8" stroke-width="1.46" /><polygon points="876.4,260.8 887.4,258.2 887.4,263.4" fill="#000" stroke="none"/><polygon points="1131.2,260.8 1120.2,263.4 1120.2,258.2" fill="#000" stroke="none"/><line x1="876.4" y1="252.8" x2="876.4" y2="351.5" stroke-width="1.46" /><line x1="1131.2" y1="252.8" x2="1131.2" y2="351.5" stroke-width="1.46" />
<line x1="909.2" y1="296.8" x2="1097.8" y2="296.8" stroke-width="1.46" /><polygon points="909.2,296.8 920.2,294.2 920.2,299.4" fill="#000" stroke="none"/><polygon points="1097.8,296.8 1086.8,299.4 1086.8,294.2" fill="#000" stroke="none"/><line x1="909.2" y1="288.6" x2="909.2" y2="341" stroke-width="1.46" /><line x1="1097.8" y1="288.6" x2="1097.8" y2="341" stroke-width="1.46" />
<line x1="839.9" y1="618.5" x2="1167.2" y2="618.5" stroke-width="1.46" /><polygon points="839.9,618.5 850.9,615.9 850.9,621.1" fill="#000" stroke="none"/><polygon points="1167.2,618.5 1156.2,621.1 1156.2,615.9" fill="#000" stroke="none"/><line x1="839.9" y1="625.5" x2="839.9" y2="473" stroke-width="1.46" /><line x1="1167.2" y1="625.5" x2="1167.2" y2="473" stroke-width="1.46" />
<circle cx="970.75" cy="179.1" r="6.9" fill="none" stroke-width="1.1" /><line x1="965" y1="189.48" x2="976.5" y2="168.72" stroke-width="1.1" /><text x="986.25" y="185.7" font-size="19" font-family='"NanumGothic","Liberation Sans",sans-serif' text-anchor="start" textLength="57" lengthAdjust="spacingAndGlyphs" fill="#000" stroke="#000" stroke-width="0.38" stroke-linejoin="round" >142 h7</text>
<circle cx="984.75" cy="245.2" r="6.9" fill="none" stroke-width="1.1" /><line x1="979" y1="255.58" x2="990.5" y2="234.82" stroke-width="1.1" /><text x="1000.25" y="251.8" font-size="19" font-family='"NanumGothic","Liberation Sans",sans-serif' text-anchor="start" textLength="30" lengthAdjust="spacingAndGlyphs" fill="#000" stroke="#000" stroke-width="0.38" stroke-linejoin="round" >115</text>
<circle cx="976.25" cy="280.8" r="6.9" fill="none" stroke-width="1.1" /><line x1="970.5" y1="291.18" x2="982" y2="270.42" stroke-width="1.1" /><text x="991.75" y="287.4" font-size="19" font-family='"NanumGothic","Liberation Sans",sans-serif' text-anchor="start" textLength="47" lengthAdjust="spacingAndGlyphs" fill="#000" stroke="#000" stroke-width="0.38" stroke-linejoin="round" >85 h7</text>
<circle cx="970.75" cy="602.8" r="6.9" fill="none" stroke-width="1.1" /><line x1="965" y1="613.18" x2="976.5" y2="592.42" stroke-width="1.1" /><text x="986.25" y="609.4" font-size="19" font-family='"NanumGothic","Liberation Sans",sans-serif' text-anchor="start" textLength="57" lengthAdjust="spacingAndGlyphs" fill="#000" stroke="#000" stroke-width="0.38" stroke-linejoin="round" >147 h7</text>
<line x1="988.3" y1="530.8" x2="988.3" y2="572.5" stroke-width="1.46" /><line x1="1018.7" y1="530.8" x2="1018.7" y2="572.5" stroke-width="1.46" />
<line x1="988.3" y1="566.8" x2="1097" y2="566.8" stroke-width="1.46" /><polygon points="988.3,566.8 997.8,564.5 997.8,569.1" fill="#000" stroke="none"/><polygon points="1018.7,566.8 1009.2,569.1 1009.2,564.5" fill="#000" stroke="none"/>
<circle cx="1036" cy="549.6" r="6.9" fill="none" stroke-width="1.1" /><line x1="1030.25" y1="559.98" x2="1041.75" y2="539.22" stroke-width="1.1" /><text x="1051" y="556.6" font-size="19" font-family='"NanumGothic","Liberation Sans",sans-serif' text-anchor="start" textLength="46" lengthAdjust="spacingAndGlyphs" fill="#000" stroke="#000" stroke-width="0.38" stroke-linejoin="round" >14 h7</text>
<line x1="730" y1="341.6" x2="730" y2="471.8" stroke-width="1.46" /><polygon points="730,341.6 732.6,352.6 727.4,352.6" fill="#000" stroke="none"/><polygon points="730,471.8 727.4,460.8 732.6,460.8" fill="#000" stroke="none"/>
<line x1="722" y1="341.6" x2="908" y2="341.6" stroke-width="1.46" />
<line x1="722" y1="471.8" x2="838.5" y2="471.8" stroke-width="1.46" />
<text x="724.5" y="406.5" font-size="18.5" font-family='"NanumGothic","Liberation Sans",sans-serif' text-anchor="middle" transform="rotate(-90 724.5 406.5)" textLength="35" lengthAdjust="spacingAndGlyphs" fill="#000" stroke="#000" stroke-width="0.37" stroke-linejoin="round" >58,5</text>
<line x1="782.2" y1="353.1" x2="782.2" y2="471.8" stroke-width="1.46" /><polygon points="782.2,353.1 784.8,364.1 779.6,364.1" fill="#000" stroke="none"/><polygon points="782.2,471.8 779.6,460.8 784.8,460.8" fill="#000" stroke="none"/>
<line x1="773.8" y1="353.1" x2="875.5" y2="353.1" stroke-width="1.46" />
<text x="776.5" y="413.5" font-size="18.5" font-family='"NanumGothic","Liberation Sans",sans-serif' text-anchor="middle" transform="rotate(-90 776.5 413.5)" textLength="35" lengthAdjust="spacingAndGlyphs" fill="#000" stroke="#000" stroke-width="0.37" stroke-linejoin="round" >53,5</text>
<line x1="821.4" y1="445.4" x2="821.4" y2="471.8" stroke-width="1.46" /><polygon points="821.4,445.4 823.7,454.9 819.1,454.9" fill="#000" stroke="none"/><polygon points="821.4,471.8 819.1,462.3 823.7,462.3" fill="#000" stroke="none"/>
<line x1="813" y1="445.4" x2="838.5" y2="445.4" stroke-width="1.46" />
<text x="814.5" y="457" font-size="18.5" font-family='"NanumGothic","Liberation Sans",sans-serif' text-anchor="middle" transform="rotate(-90 814.5 457)" textLength="20" lengthAdjust="spacingAndGlyphs" fill="#000" stroke="#000" stroke-width="0.37" stroke-linejoin="round" >12</text>
<line x1="1101.5" y1="341.6" x2="1207.7" y2="341.6" stroke-width="1.46" />
<line x1="1133.8" y1="353.1" x2="1207.7" y2="353.1" stroke-width="1.46" />
<line x1="1199.8" y1="309" x2="1199.8" y2="341.6" stroke-width="1.46" /><polygon points="1199.8,341.6 1197.3,331.1 1202.3,331.1" fill="#000" stroke="none"/>
<line x1="1199.8" y1="383" x2="1199.8" y2="353.1" stroke-width="1.46" /><polygon points="1199.8,353.1 1202.3,363.6 1197.3,363.6" fill="#000" stroke="none"/>
<text x="1195" y="371" font-size="19" font-family='"NanumGothic","Liberation Sans",sans-serif' text-anchor="middle" transform="rotate(-90 1195 371)" fill="#000" stroke="#000" stroke-width="0.38" stroke-linejoin="round" >5</text>
<line x1="1020" y1="472.6" x2="1216" y2="472.6" stroke-width="1.46" />
<line x1="1166" y1="470.2" x2="1216" y2="470.2" stroke-width="1.46" />
<line x1="1207.7" y1="436" x2="1207.7" y2="470" stroke-width="1.46" /><polygon points="1207.7,470.2 1205.2,459.7 1210.2,459.7" fill="#000" stroke="none"/>
<line x1="1207.7" y1="507.7" x2="1207.7" y2="473" stroke-width="1.46" /><polygon points="1207.7,472.8 1210.2,483.3 1205.2,483.3" fill="#000" stroke="none"/>
<text x="1201.5" y="442" font-size="19" font-family='"NanumGothic","Liberation Sans",sans-serif' text-anchor="middle" transform="rotate(-90 1201.5 442)" fill="#000" stroke="#000" stroke-width="0.38" stroke-linejoin="round" >1</text>
<line x1="1156.9" y1="473" x2="1156.9" y2="529.4" stroke-width="1.46" /><polygon points="1156.9,473 1159.5,484 1154.3,484" fill="#000" stroke="none"/><polygon points="1156.9,529.4 1154.3,518.4 1159.5,518.4" fill="#000" stroke="none"/>
<line x1="1018.7" y1="529.4" x2="1161.5" y2="529.4" stroke-width="1.46" />
<text x="1149.5" y="500" font-size="19" font-family='"NanumGothic","Liberation Sans",sans-serif' text-anchor="middle" transform="rotate(-90 1149.5 500)" textLength="19.5" lengthAdjust="spacingAndGlyphs" fill="#000" stroke="#000" stroke-width="0.38" stroke-linejoin="round" >26</text></g>
</svg>
<table class="spec">
<colgroup><col style="width:44px"><col style="width:55px"><col style="width:41px"><col style="width:51px"><col style="width:75px"><col style="width:55px"><col style="width:71px"><col style="width:64px"><col style="width:76px"><col style="width:54px"><col style="width:76px"><col style="width:69px"><col style="width:62px"><col style="width:67px"><col style="width:67px"><col style="width:129px"><col style="width:150px"><col style="width:57px"></colgroup>
<tr class="hd" style="height:143px">
<th rowspan="2" class="v"><span style="position:relative;top:2px">型<br>号</span></th>
<th rowspan="2" class="v"><span style="position:relative;top:5px">减<br>速<br>比</span></th>
<th class="v wl">重<br>量</th>
<th colspan="2">输入<br><span class="lat">2000r/min</span><br>时的额定<br>转矩</th>
<th colspan="2">起动停止<br>时的容许<br>峰值转矩</th>
<th colspan="2">平均负载转<br>矩的容许最<br>大值</th>
<th colspan="2">瞬间容许<br>最大转矩</th>
<th colspan="2" class="sm">容许最高输<br>入转速<span class="lat">r/min</span></th>
<th colspan="2" class="sm">容许平均输<br>入转速<span class="lat">r/min</span></th>
<th colspan="2">转动惯量</th>
<th class="v">背<br>隙</th>
</tr>
<tr class="sub" style="height:75px">
<td class="u nl">kg</td>
<td class="u"><span class="sq">Nm<svg class="zz" height="4" aria-hidden="true"><path d="M-1 3.3 l2 -2.2 l2 2.2 l2 -2.2 l2 2.2 l2 -2.2 l2 2.2 l2 -2.2 l2 2.2 l2 -2.2 l2 2.2 l2 -2.2 l2 2.2 l2 -2.2 l2 2.2 l2 -2.2 l2 2.2 l2 -2.2 l2 2.2 l2 -2.2 l2 2.2 l2 -2.2 l2 2.2 l2 -2.2 l2 2.2 l2 -2.2 l2 2.2 l2 -2.2 l2 2.2 l2 -2.2 l2 2.2 l2 -2.2 l2 2.2 l2 -2.2 l2 2.2 l2 -2.2 l2 2.2 l2 -2.2 l2 2.2 l2 -2.2 l2 2.2" fill="none" stroke="#ee2a2a" stroke-width="0.9"/></svg></span></td><td class="u"><span class="sq">Kgfm<svg class="zz" height="4" aria-hidden="true"><path d="M-1 3.3 l2 -2.2 l2 2.2 l2 -2.2 l2 2.2 l2 -2.2 l2 2.2 l2 -2.2 l2 2.2 l2 -2.2 l2 2.2 l2 -2.2 l2 2.2 l2 -2.2 l2 2.2 l2 -2.2 l2 2.2 l2 -2.2 l2 2.2 l2 -2.2 l2 2.2 l2 -2.2 l2 2.2 l2 -2.2 l2 2.2 l2 -2.2 l2 2.2 l2 -2.2 l2 2.2 l2 -2.2 l2 2.2 l2 -2.2 l2 2.2 l2 -2.2 l2 2.2 l2 -2.2 l2 2.2 l2 -2.2 l2 2.2 l2 -2.2 l2 2.2" fill="none" stroke="#ee2a2a" stroke-width="0.9"/></svg></span></td>
<td class="u"><span class="sq">Nm<svg class="zz" height="4" aria-hidden="true"><path d="M-1 3.3 l2 -2.2 l2 2.2 l2 -2.2 l2 2.2 l2 -2.2 l2 2.2 l2 -2.2 l2 2.2 l2 -2.2 l2 2.2 l2 -2.2 l2 2.2 l2 -2.2 l2 2.2 l2 -2.2 l2 2.2 l2 -2.2 l2 2.2 l2 -2.2 l2 2.2 l2 -2.2 l2 2.2 l2 -2.2 l2 2.2 l2 -2.2 l2 2.2 l2 -2.2 l2 2.2 l2 -2.2 l2 2.2 l2 -2.2 l2 2.2 l2 -2.2 l2 2.2 l2 -2.2 l2 2.2 l2 -2.2 l2 2.2 l2 -2.2 l2 2.2" fill="none" stroke="#ee2a2a" stroke-width="0.9"/></svg></span></td><td class="u"><span class="sq">Kgfm<svg class="zz" height="4" aria-hidden="true"><path d="M-1 3.3 l2 -2.2 l2 2.2 l2 -2.2 l2 2.2 l2 -2.2 l2 2.2 l2 -2.2 l2 2.2 l2 -2.2 l2 2.2 l2 -2.2 l2 2.2 l2 -2.2 l2 2.2 l2 -2.2 l2 2.2 l2 -2.2 l2 2.2 l2 -2.2 l2 2.2 l2 -2.2 l2 2.2 l2 -2.2 l2 2.2 l2 -2.2 l2 2.2 l2 -2.2 l2 2.2 l2 -2.2 l2 2.2 l2 -2.2 l2 2.2 l2 -2.2 l2 2.2 l2 -2.2 l2 2.2 l2 -2.2 l2 2.2 l2 -2.2 l2 2.2" fill="none" stroke="#ee2a2a" stroke-width="0.9"/></svg></span></td>
<td class="u"><span class="sq">Nm<svg class="zz" height="4" aria-hidden="true"><path d="M-1 3.3 l2 -2.2 l2 2.2 l2 -2.2 l2 2.2 l2 -2.2 l2 2.2 l2 -2.2 l2 2.2 l2 -2.2 l2 2.2 l2 -2.2 l2 2.2 l2 -2.2 l2 2.2 l2 -2.2 l2 2.2 l2 -2.2 l2 2.2 l2 -2.2 l2 2.2 l2 -2.2 l2 2.2 l2 -2.2 l2 2.2 l2 -2.2 l2 2.2 l2 -2.2 l2 2.2 l2 -2.2 l2 2.2 l2 -2.2 l2 2.2 l2 -2.2 l2 2.2 l2 -2.2 l2 2.2 l2 -2.2 l2 2.2 l2 -2.2 l2 2.2" fill="none" stroke="#ee2a2a" stroke-width="0.9"/></svg></span></td><td class="u"><span class="sq">Kgfm<svg class="zz" height="4" aria-hidden="true"><path d="M-1 3.3 l2 -2.2 l2 2.2 l2 -2.2 l2 2.2 l2 -2.2 l2 2.2 l2 -2.2 l2 2.2 l2 -2.2 l2 2.2 l2 -2.2 l2 2.2 l2 -2.2 l2 2.2 l2 -2.2 l2 2.2 l2 -2.2 l2 2.2 l2 -2.2 l2 2.2 l2 -2.2 l2 2.2 l2 -2.2 l2 2.2 l2 -2.2 l2 2.2 l2 -2.2 l2 2.2 l2 -2.2 l2 2.2 l2 -2.2 l2 2.2 l2 -2.2 l2 2.2 l2 -2.2 l2 2.2 l2 -2.2 l2 2.2 l2 -2.2 l2 2.2" fill="none" stroke="#ee2a2a" stroke-width="0.9"/></svg></span></td>
<td class="u"><span class="sq">Nm<svg class="zz" height="4" aria-hidden="true"><path d="M-1 3.3 l2 -2.2 l2 2.2 l2 -2.2 l2 2.2 l2 -2.2 l2 2.2 l2 -2.2 l2 2.2 l2 -2.2 l2 2.2 l2 -2.2 l2 2.2 l2 -2.2 l2 2.2 l2 -2.2 l2 2.2 l2 -2.2 l2 2.2 l2 -2.2 l2 2.2 l2 -2.2 l2 2.2 l2 -2.2 l2 2.2 l2 -2.2 l2 2.2 l2 -2.2 l2 2.2 l2 -2.2 l2 2.2 l2 -2.2 l2 2.2 l2 -2.2 l2 2.2 l2 -2.2 l2 2.2 l2 -2.2 l2 2.2 l2 -2.2 l2 2.2" fill="none" stroke="#ee2a2a" stroke-width="0.9"/></svg></span></td><td class="u"><span class="sq">Kgfm<svg class="zz" height="4" aria-hidden="true"><path d="M-1 3.3 l2 -2.2 l2 2.2 l2 -2.2 l2 2.2 l2 -2.2 l2 2.2 l2 -2.2 l2 2.2 l2 -2.2 l2 2.2 l2 -2.2 l2 2.2 l2 -2.2 l2 2.2 l2 -2.2 l2 2.2 l2 -2.2 l2 2.2 l2 -2.2 l2 2.2 l2 -2.2 l2 2.2 l2 -2.2 l2 2.2 l2 -2.2 l2 2.2 l2 -2.2 l2 2.2 l2 -2.2 l2 2.2 l2 -2.2 l2 2.2 l2 -2.2 l2 2.2 l2 -2.2 l2 2.2 l2 -2.2 l2 2.2 l2 -2.2 l2 2.2" fill="none" stroke="#ee2a2a" stroke-width="0.9"/></svg></span></td>
<td class="cb">油润<br>滑</td><td class="cb">润滑<br>脂润<br>滑</td><td class="cb">油润<br>滑</td><td class="cb">润滑<br>稀的</td>
<td class="ex">×10<sup>−</sup><span class="gap"></span><sup>4</sup><span class="sq">kgm²<svg class="zz" height="4" aria-hidden="true"><path d="M-1 3.3 l2 -2.2 l2 2.2 l2 -2.2 l2 2.2 l2 -2.2 l2 2.2 l2 -2.2 l2 2.2 l2 -2.2 l2 2.2 l2 -2.2 l2 2.2 l2 -2.2 l2 2.2 l2 -2.2 l2 2.2 l2 -2.2 l2 2.2 l2 -2.2 l2 2.2 l2 -2.2 l2 2.2 l2 -2.2 l2 2.2 l2 -2.2 l2 2.2 l2 -2.2 l2 2.2 l2 -2.2 l2 2.2 l2 -2.2 l2 2.2 l2 -2.2 l2 2.2 l2 -2.2 l2 2.2 l2 -2.2 l2 2.2 l2 -2.2 l2 2.2" fill="none" stroke="#ee2a2a" stroke-width="0.9"/></svg></span></td>
<td class="ex">×10<sup>−</sup><span class="gap"></span><sup>5</sup><span class="sq">kgfms²<svg class="zz" height="4" aria-hidden="true"><path d="M-1 3.3 l2 -2.2 l2 2.2 l2 -2.2 l2 2.2 l2 -2.2 l2 2.2 l2 -2.2 l2 2.2 l2 -2.2 l2 2.2 l2 -2.2 l2 2.2 l2 -2.2 l2 2.2 l2 -2.2 l2 2.2 l2 -2.2 l2 2.2 l2 -2.2 l2 2.2 l2 -2.2 l2 2.2 l2 -2.2 l2 2.2 l2 -2.2 l2 2.2 l2 -2.2 l2 2.2 l2 -2.2 l2 2.2 l2 -2.2 l2 2.2 l2 -2.2 l2 2.2 l2 -2.2 l2 2.2 l2 -2.2 l2 2.2 l2 -2.2 l2 2.2" fill="none" stroke="#ee2a2a" stroke-width="0.9"/></svg></span></td>
<td class="as">Are<br>sec</td>
</tr>
<tr class="bd" style="height:55px">
<td rowspan="6">32</td>
<td>30</td>
<td rowspan="6">3</td>
<td>54</td>
<td>5.5</td>
<td>100</td>
<td>10</td>
<td>75</td>
<td>7.7</td>
<td>200</td>
<td>20</td>
<td rowspan="6">7000</td>
<td rowspan="6">4800</td>
<td rowspan="6">4600</td>
<td rowspan="6">3500</td>
<td rowspan="6" class="big">1.69</td><td rowspan="6" class="big">1.72</td>
<td>≤10</td>
</tr>
<tr class="bd" style="height:55px">
<td>50</td>
<td>99</td>
<td>10</td>
<td>281</td>
<td>29</td>
<td>140</td>
<td>14</td>
<td>497</td>
<td>51</td>
<td>≤10</td>
</tr>
<tr class="bd" style="height:55px">
<td>80</td>
<td>153</td>
<td>16</td>
<td>395</td>
<td>40</td>
<td>217</td>
<td>22</td>
<td>738</td>
<td>75</td>
<td>≤10</td>
</tr>
<tr class="bd" style="height:55px">
<td>100</td>
<td>178</td>
<td>18</td>
<td>433</td>
<td>44</td>
<td>281</td>
<td>29</td>
<td>841</td>
<td>86</td>
<td>≤10</td>
</tr>
<tr class="bd" style="height:55px">
<td>120</td>
<td>178</td>
<td>18</td>
<td>459</td>
<td>47</td>
<td>281</td>
<td>29</td>
<td>892</td>
<td>91</td>
<td>≤10</td>
</tr>
<tr class="bd" style="height:55px">
<td>160</td>
<td>178</td>
<td>18</td>
<td>484</td>
<td>49</td>
<td>281</td>
<td>29</td>
<td>892</td>
<td>91</td>
<td>≤10</td>
</tr>
</table>
<div style="position:absolute;left:630px;top:1634px;width:39px;height:6px;background:#eee;border-left:1px solid #aaa;border-right:1px solid #aaa;box-sizing:border-box"></div>
<div style="position:absolute;left:1283px;top:1086px;width:1px;height:554px;background:#e2e2e2"></div>
</body></html>
